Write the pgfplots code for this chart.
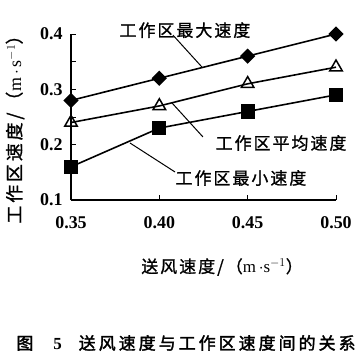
\documentclass[border=0pt]{standalone}
\usepackage{pgfplots}
\pgfplotsset{compat=1.18}
\usepackage{fontspec}
\setmainfont{Liberation Serif}
\newfontfamily\cjk[LetterSpace=12,FakeBold=1.2]{Noto Sans CJK SC}
\newfontfamily\cjkcap[LetterSpace=18,FakeBold=2]{Noto Sans CJK SC}
\newfontfamily\cjkylab[LetterSpace=16,FakeBold=1.2]{Noto Sans CJK SC}
\newcommand{\fs}{\fontsize{17}{20}\selectfont}
\newcommand{\fst}{\fontsize{18}{20}\selectfont}
\begin{document}
\begin{tikzpicture}
\useasboundingbox (-71bp,-156bp) rectangle (285bp,200bp);
\begin{axis}[
  at={(0,0)}, anchor=origin,
  scale only axis, width=265bp, height=166bp,
  xmin=0.35, xmax=0.50, ymin=0.1, ymax=0.4,
  axis lines*=left, axis line style={line width=1.1pt},
  tick align=inside, major tick length=5bp, minor tick length=5bp,
  tick style={line width=1pt, black},
  xtick={0.35,0.40,0.45,0.50}, ytick={0.1,0.2,0.3,0.4},
  minor y tick num=1,
  x tick label style={/pgf/number format/.cd, fixed, fixed zerofill, precision=2, /tikz/.cd, yshift=-13bp},
  y tick label style={/pgf/number format/.cd, fixed, fixed zerofill, precision=1, /tikz/.cd, xshift=-5bp},
  tick label style={font=\fst\bfseries},
  /pgf/number format/assume math mode=true,
  clip=false,
]
\addplot[black, line width=1.6pt, mark=square*, mark size=4.6bp, mark options={rotate=45, solid}] coordinates {(0.35,0.28)(0.40,0.32)(0.45,0.36)(0.50,0.40)};
\addplot[black, line width=1.6pt, mark=triangle, mark size=7.2bp, mark options={fill=white, line width=1.5pt}] coordinates {(0.35,0.24)(0.40,0.27)(0.45,0.31)(0.50,0.34)};
\addplot[black, line width=1.6pt, mark=square*, mark size=6.3bp] coordinates {(0.35,0.16)(0.40,0.23)(0.45,0.26)(0.50,0.29)};
% leader lines
\draw[line width=1pt] (axis cs:0.4077,0.398) -- (axis cs:0.4242,0.340);
\draw[line width=1pt] (axis cs:0.4072,0.2753) -- (axis cs:0.4247,0.2139);
\draw[line width=1pt] (axis cs:0.3834,0.2030) -- (axis cs:0.4089,0.1506);
% labels
\node[font=\fs\cjk] at (axis cs:0.4145,0.407) {工作区最大速度};
\node[font=\fs\cjk] at (axis cs:0.4689,0.203) {工作区平均速度};
\node[font=\fs\cjk] at (axis cs:0.4462,0.1398) {工作区最小速度};
\node[font=\fst, rotate=90] at (axis cs:0.3183,0.2355) {{\cjkylab 工作区速度/（}m\,$\cdot$\,s$^{-1}${\cjkylab ）}};
\node[font=\fs] at (axis cs:0.4355,-0.0211) {{\cjk 送风速度/（}m\,$\cdot$s$^{-1}${\cjk ）}};
\node[font=\fs] at (axis cs:0.4151,-0.1584) {{\cjkcap 图}\quad\textbf{5}\quad{\cjkcap 送风速度与工作区速度间的关系}};
\end{axis}
\end{tikzpicture}
\end{document}
